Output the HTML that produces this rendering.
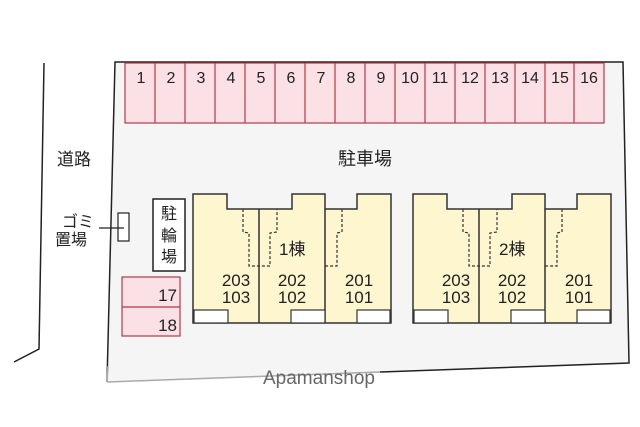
<!DOCTYPE html>
<html><head><meta charset="utf-8"><style>
html,body{margin:0;padding:0;background:#fff;}
svg{display:block;}
text{font-family:"Liberation Sans","Noto Sans CJK JP",sans-serif;fill:#222;}
</style></head><body>
<svg width="640" height="427" viewBox="0 0 640 427" xmlns="http://www.w3.org/2000/svg">
<polygon points="115,62 623,62 629,363 107,382" fill="#f5f5f5" stroke="none"/>
<polyline points="107,382 115,62 623,62 629,363 380,372" fill="none" stroke="#222" stroke-width="1.5"/>
<line x1="380" y1="372" x2="107" y2="382" stroke="#aaa" stroke-width="1.5"/>
<line x1="108" y1="366" x2="107" y2="382" stroke="#aaa" stroke-width="1.5"/>
<polyline points="44,63 39,349 14,362" fill="none" stroke="#222" stroke-width="1.5"/>
<text x="57" y="165" font-size="17">道路</text>
<text x="338" y="165" font-size="18">駐車場</text>
<rect x="125" y="63" width="479" height="60" fill="#fbe0e6" stroke="#b03a48" stroke-width="1.2"/>
<g stroke="#b03a48" stroke-width="1.2">
<line x1="155" y1="63" x2="155" y2="123"/><line x1="185" y1="63" x2="185" y2="123"/>
<line x1="215" y1="63" x2="215" y2="123"/><line x1="245" y1="63" x2="245" y2="123"/>
<line x1="275" y1="63" x2="275" y2="123"/><line x1="305" y1="63" x2="305" y2="123"/>
<line x1="335" y1="63" x2="335" y2="123"/><line x1="365" y1="63" x2="365" y2="123"/>
<line x1="395" y1="63" x2="395" y2="123"/><line x1="425" y1="63" x2="425" y2="123"/>
<line x1="455" y1="63" x2="455" y2="123"/><line x1="485" y1="63" x2="485" y2="123"/>
<line x1="515" y1="63" x2="515" y2="123"/><line x1="545" y1="63" x2="545" y2="123"/>
<line x1="574" y1="63" x2="574" y2="123"/>
</g>
<g font-size="16" text-anchor="middle">
<text x="141" y="83">1</text><text x="171" y="83">2</text><text x="201" y="83">3</text><text x="231" y="83">4</text>
<text x="261" y="83">5</text><text x="291" y="83">6</text><text x="321" y="83">7</text><text x="351" y="83">8</text>
<text x="381" y="83">9</text><text x="410" y="83">10</text><text x="440" y="83">11</text><text x="470" y="83">12</text>
<text x="500" y="83">13</text><text x="530" y="83">14</text><text x="560" y="83">15</text><text x="589" y="83">16</text>
</g>
<rect x="122" y="277" width="58" height="59" fill="#fbe0e6" stroke="#b03a48" stroke-width="1.2"/>
<line x1="122" y1="307" x2="180" y2="307" stroke="#b03a48" stroke-width="1.2"/>
<text x="177" y="301" font-size="17" text-anchor="end">17</text>
<text x="177" y="331" font-size="17" text-anchor="end">18</text>
<rect x="153" y="199" width="32" height="72" fill="#fff" stroke="#222" stroke-width="1.5"/>
<text x="169" y="219" font-size="16" text-anchor="middle">駐</text>
<text x="169" y="241" font-size="16" text-anchor="middle">輪</text>
<text x="169" y="262" font-size="16" text-anchor="middle">場</text>
<rect x="118" y="213" width="11" height="28" fill="#fff" stroke="#222" stroke-width="1.2"/>
<line x1="99" y1="228" x2="124" y2="228" stroke="#222" stroke-width="1.2"/>
<text x="62" y="227" font-size="16">ゴミ</text>
<text x="55" y="245" font-size="16">置場</text>
<g id="b1">
<polygon points="193,194 227,194 227,209 292,209 292,194 325,194 325,209 357,209 357,194 391,194 391,323 193,323" fill="#fdf6cf" stroke="#333" stroke-width="1.5"/>
<line x1="259" y1="209" x2="259" y2="323" stroke="#333" stroke-width="1.5"/>
<line x1="325" y1="209" x2="325" y2="323" stroke="#333" stroke-width="1.5"/>
<rect x="194" y="310" width="34" height="13" fill="#fff" stroke="#333" stroke-width="1.2"/>
<rect x="291" y="310" width="34" height="13" fill="#fff" stroke="#333" stroke-width="1.2"/>
<rect x="357" y="310" width="33" height="13" fill="#fff" stroke="#333" stroke-width="1.2"/>
<g fill="none" stroke="#333" stroke-width="1.2" stroke-dasharray="3,2">
<polyline points="243,209 243,232 249,233 249,266 270,266 270,233 277,232 277,209"/>
<polyline points="342,209 342,232 337,233 337,266 325,266"/>
</g>
<g font-size="17" text-anchor="middle">
<text x="236" y="286">203</text><text x="236" y="303">103</text>
<text x="292" y="286">202</text><text x="292" y="303">102</text>
<text x="359" y="286">201</text><text x="359" y="303">101</text>
</g>
</g>
<text x="279" y="255" font-size="17">1棟</text>
<use href="#b1" x="220"/>
<text x="499" y="255" font-size="17">2棟</text>
<text x="263" y="384" font-size="19" style="fill:#666">Apamanshop</text>
</svg>
</body></html>
